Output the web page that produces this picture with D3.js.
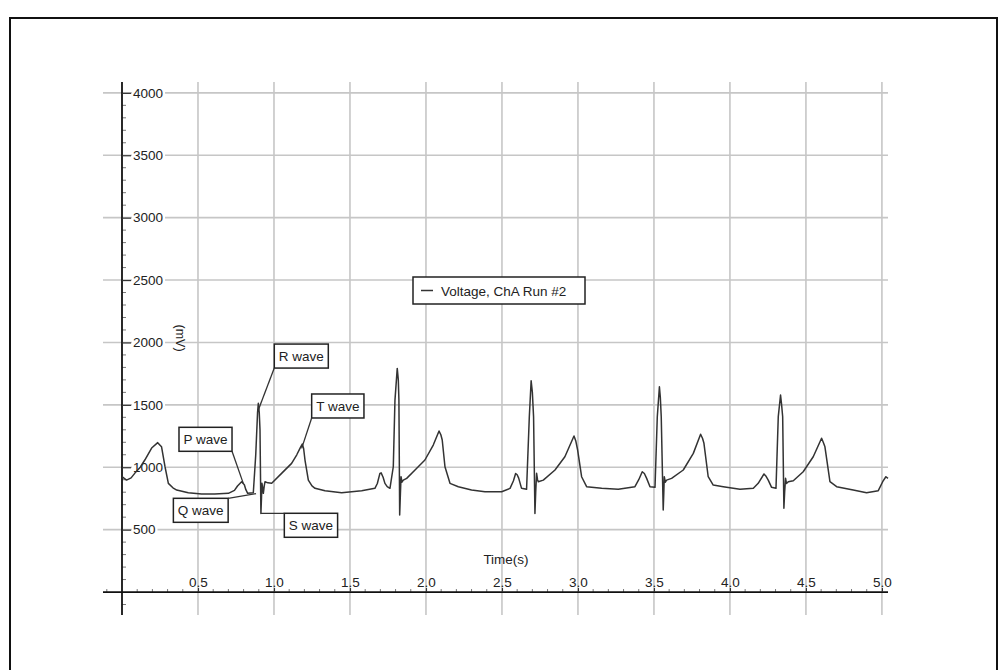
<!DOCTYPE html>
<html>
<head>
<meta charset="utf-8">
<script src="https://cdn.jsdelivr.net/npm/d3@7"></script>
<style>
  body { margin: 0; background: #fff; }
  svg { display: block; }
  text { font-family: Arial, 'Liberation Sans', sans-serif; fill: #222; }
</style>
</head>
<body>
<svg id="chart" width="999" height="670"></svg>
<script>
// ECG trace (seconds, millivolts)
const timeS = [
  0.000, 0.030, 0.060, 0.085, 0.120, 0.150, 0.195, 0.235, 0.260, 0.283, 0.305, 0.335, 0.360, 0.436, 0.524, 0.610, 0.700,
  0.740, 0.760, 0.787, 0.805, 0.815, 0.827, 0.864, 0.880, 0.892, 0.897, 0.903, 0.908, 0.914, 0.918, 0.921, 0.926, 0.930,
  0.936, 0.941, 0.960, 0.985, 1.050, 1.116, 1.150, 1.171, 1.186, 1.195, 1.204, 1.226, 1.250, 1.270, 1.336, 1.445, 1.577,
  1.664, 1.680, 1.697, 1.705, 1.718, 1.730, 1.745, 1.763, 1.785, 1.796, 1.811, 1.818, 1.822, 1.827, 1.831, 1.836, 1.842,
  1.851, 1.873, 1.928, 1.993, 2.048, 2.086, 2.098, 2.107, 2.125, 2.158, 2.213, 2.300, 2.388, 2.498, 2.553, 2.575, 2.590,
  2.600, 2.610, 2.629, 2.662, 2.680, 2.692, 2.700, 2.708, 2.717, 2.722, 2.728, 2.734, 2.739, 2.772, 2.849, 2.914, 2.974,
  2.986, 2.998, 3.024, 3.057, 3.156, 3.265, 3.375, 3.400, 3.423, 3.437, 3.452, 3.474, 3.507, 3.522, 3.536, 3.542, 3.548,
  3.561, 3.565, 3.568, 3.575, 3.583, 3.616, 3.693, 3.759, 3.807, 3.820, 3.829, 3.857, 3.890, 3.956, 4.066, 4.154, 4.186,
  4.224, 4.236, 4.252, 4.274, 4.303, 4.318, 4.333, 4.340, 4.347, 4.355, 4.360, 4.366, 4.372, 4.384, 4.417, 4.482, 4.548,
  4.603, 4.614, 4.625, 4.658, 4.702, 4.811, 4.899, 4.976, 5.005, 5.026, 5.040
];
const voltMv = [
  924, 897, 915, 953, 1000, 1058, 1154, 1197, 1165, 1004, 871, 835, 817, 796, 785, 785, 791,
  815, 850, 884, 860, 820, 791, 795, 1100, 1440, 1512, 1440, 1300, 630, 760, 871, 830, 791,
  850, 884, 875, 871, 951, 1031, 1100, 1151, 1186, 1150, 1058, 897, 850, 831, 812, 796, 812,
  831, 870, 951, 955, 920, 871, 845, 831, 1004, 1538, 1792, 1700, 1538, 617, 760, 924, 880,
  897, 911, 978, 1058, 1178, 1290, 1260, 1218, 1004, 871, 844, 817, 804, 804, 831, 890, 950,
  940, 913, 831, 823, 1405, 1693, 1600, 1405, 630, 800, 951, 900, 884, 897, 978, 1084, 1250,
  1210, 1138, 924, 844, 831, 823, 844, 900, 964, 950, 911, 844, 839, 1405, 1645, 1560, 1405,
  657, 800, 924, 880, 897, 911, 978, 1111, 1264, 1230, 1192, 924, 857, 844, 823, 831, 871,
  946, 930, 897, 839, 831, 1405, 1579, 1500, 1405, 671, 800, 911, 870, 884, 892, 964, 1084,
  1232, 1200, 1164, 884, 844, 817, 796, 812, 884, 924, 911
];

const xTicks = [0.5, 1.0, 1.5, 2.0, 2.5, 3.0, 3.5, 4.0, 4.5, 5.0];
const yTicks = [500, 1000, 1500, 2000, 2500, 3000, 3500, 4000];

const seriesName = 'Voltage, ChA Run #2';
const xTitle = 'Time(s)';
const yTitle = '(mV)';

// callouts: label, point on the trace, box corner (data units)
const annoLabels = ['P wave', 'Q wave', 'R wave', 'S wave', 'T wave'];
const annoPointT = [0.798, 0.882, 0.897, 0.914, 1.182];
const annoPointV = [871, 788, 1458, 630, 1151];
const annoBoxT = [0.375, 0.338, 1.002, 1.068, 1.248];
const annoBoxV = [1320, 751, 1987, 631, 1587];
const annoCorner = ['br', 'tr', 'bl', 'tl', 'bl'];

const svg = d3.select('#chart');

// outer frame
svg.append('rect')
  .attr('x', 10).attr('y', 18)
  .attr('width', 987).attr('height', 680)
  .attr('fill', 'none').attr('stroke', '#111').attr('stroke-width', 2);

const plotLeft = 103, plotRight = 888, plotTop = 82, plotBottom = 615;

const x = d3.scaleLinear().domain([-0.125, 5.04]).range([plotLeft, plotRight]);
const y = d3.scaleLinear().domain([-184, 4087]).range([plotBottom, plotTop]);

// grid
const grid = svg.append('g').attr('stroke', '#c6c6c6').attr('stroke-width', 1.6);
grid.selectAll('.vg').data(xTicks).enter().append('line')
  .attr('x1', d => x(d)).attr('x2', d => x(d))
  .attr('y1', plotTop).attr('y2', plotBottom);
grid.selectAll('.hg').data(yTicks).enter().append('line')
  .attr('x1', plotLeft).attr('x2', plotRight)
  .attr('y1', d => y(d)).attr('y2', d => y(d));

// minor ticks
const minorY = d3.range(-100, 4100, 100).filter(v => v % 500 !== 0);
svg.append('g').selectAll('line').data(minorY).enter().append('line')
  .attr('x1', x(0)).attr('x2', x(0) + 4)
  .attr('y1', d => y(d)).attr('y2', d => y(d))
  .attr('stroke', '#777').attr('stroke-width', 1);
const minorX = d3.range(-1, 51).map(i => i / 10).filter(t => Math.round(t * 10) % 5 !== 0);
svg.append('g').selectAll('line').data(minorX).enter().append('line')
  .attr('x1', d => x(d)).attr('x2', d => x(d))
  .attr('y1', y(0) - 3).attr('y2', y(0))
  .attr('stroke', '#777').attr('stroke-width', 1);

// axis lines
svg.append('line')
  .attr('x1', plotLeft).attr('x2', plotRight).attr('y1', y(0)).attr('y2', y(0))
  .attr('stroke', '#111').attr('stroke-width', 1.8);
svg.append('line')
  .attr('x1', x(0)).attr('x2', x(0)).attr('y1', plotTop).attr('y2', plotBottom)
  .attr('stroke', '#111').attr('stroke-width', 1.8);

// y axis labels (to the right of the axis)
const yAxis = svg.append('g')
  .attr('transform', 'translate(' + x(0) + ',0)')
  .call(d3.axisRight(y).tickValues(yTicks).tickSize(9).tickPadding(2).tickFormat(d3.format('d')));
yAxis.select('.domain').remove();
yAxis.selectAll('.tick line').attr('stroke', '#333').attr('stroke-width', 1.2);
yAxis.selectAll('.tick text')
  .attr('font-size', '13.5px').attr('fill', '#222')
  .attr('font-family', "Arial, 'Liberation Sans', sans-serif");
yAxis.selectAll('.tick').each(function () {
  const t = d3.select(this).select('text');
  const b = t.node().getBBox();
  d3.select(this).insert('rect', 'text')
    .attr('x', b.x - 1).attr('y', b.y)
    .attr('width', b.width + 3).attr('height', b.height)
    .attr('fill', '#fff');
});

// x axis labels (above the axis)
const xAxis = svg.append('g')
  .attr('transform', 'translate(0,' + y(0) + ')')
  .call(d3.axisTop(x).tickValues(xTicks).tickSize(4).tickPadding(1).tickFormat(d3.format('.1f')));
xAxis.select('.domain').remove();
xAxis.selectAll('.tick line').attr('stroke', '#333').attr('stroke-width', 1.2);
xAxis.selectAll('.tick text')
  .attr('font-size', '13.5px').attr('fill', '#222')
  .attr('font-family', "Arial, 'Liberation Sans', sans-serif");

// axis titles
svg.append('text')
  .attr('x', 506).attr('y', 564)
  .attr('text-anchor', 'middle').attr('font-size', '13.5px')
  .text(xTitle);
svg.append('text')
  .attr('transform', 'translate(176,338) rotate(90)')
  .attr('text-anchor', 'middle').attr('font-size', '12.5px')
  .text(yTitle);

// trace
const points = timeS.map((t, i) => ({t: t, v: voltMv[i]}));
const line = d3.line()
  .x(d => x(d.t))
  .y(d => y(d.v));
svg.append('path')
  .datum(points)
  .attr('d', line)
  .attr('fill', 'none')
  .attr('stroke', '#333')
  .attr('stroke-width', 1.5)
  .attr('stroke-linejoin', 'round');

// legend
const legend = svg.append('g');
legend.append('rect')
  .attr('x', 413).attr('y', 277).attr('width', 172).attr('height', 27)
  .attr('fill', '#fff').attr('stroke', '#222').attr('stroke-width', 1.5);
legend.append('line')
  .attr('x1', 421).attr('x2', 433).attr('y1', 290.5).attr('y2', 290.5)
  .attr('stroke', '#333').attr('stroke-width', 1.5);
legend.append('text')
  .attr('x', 441).attr('y', 295.5)
  .attr('font-size', '13.5px')
  .text(seriesName);

// callouts
annoLabels.forEach(function (label, i) {
  const g = svg.append('g');
  const bx = x(annoBoxT[i]), by = y(annoBoxV[i]);
  const txt = g.append('text')
    .attr('x', bx + 4.5).attr('y', by + 17)
    .attr('font-size', '13.5px')
    .text(label);
  const w = txt.node().getBBox().width + 9, h = 24;
  g.insert('rect', 'text')
    .attr('x', bx).attr('y', by).attr('width', w).attr('height', h)
    .attr('fill', '#fff').attr('stroke', '#222').attr('stroke-width', 1.5);
  const c = annoCorner[i];
  const cx = c[1] === 'r' ? bx + w : bx;
  const cy = c[0] === 'b' ? by + h : by;
  g.append('line')
    .attr('x1', cx).attr('y1', cy)
    .attr('x2', x(annoPointT[i])).attr('y2', y(annoPointV[i]))
    .attr('stroke', '#333').attr('stroke-width', 1.3);
});
</script>
</body>
</html>
